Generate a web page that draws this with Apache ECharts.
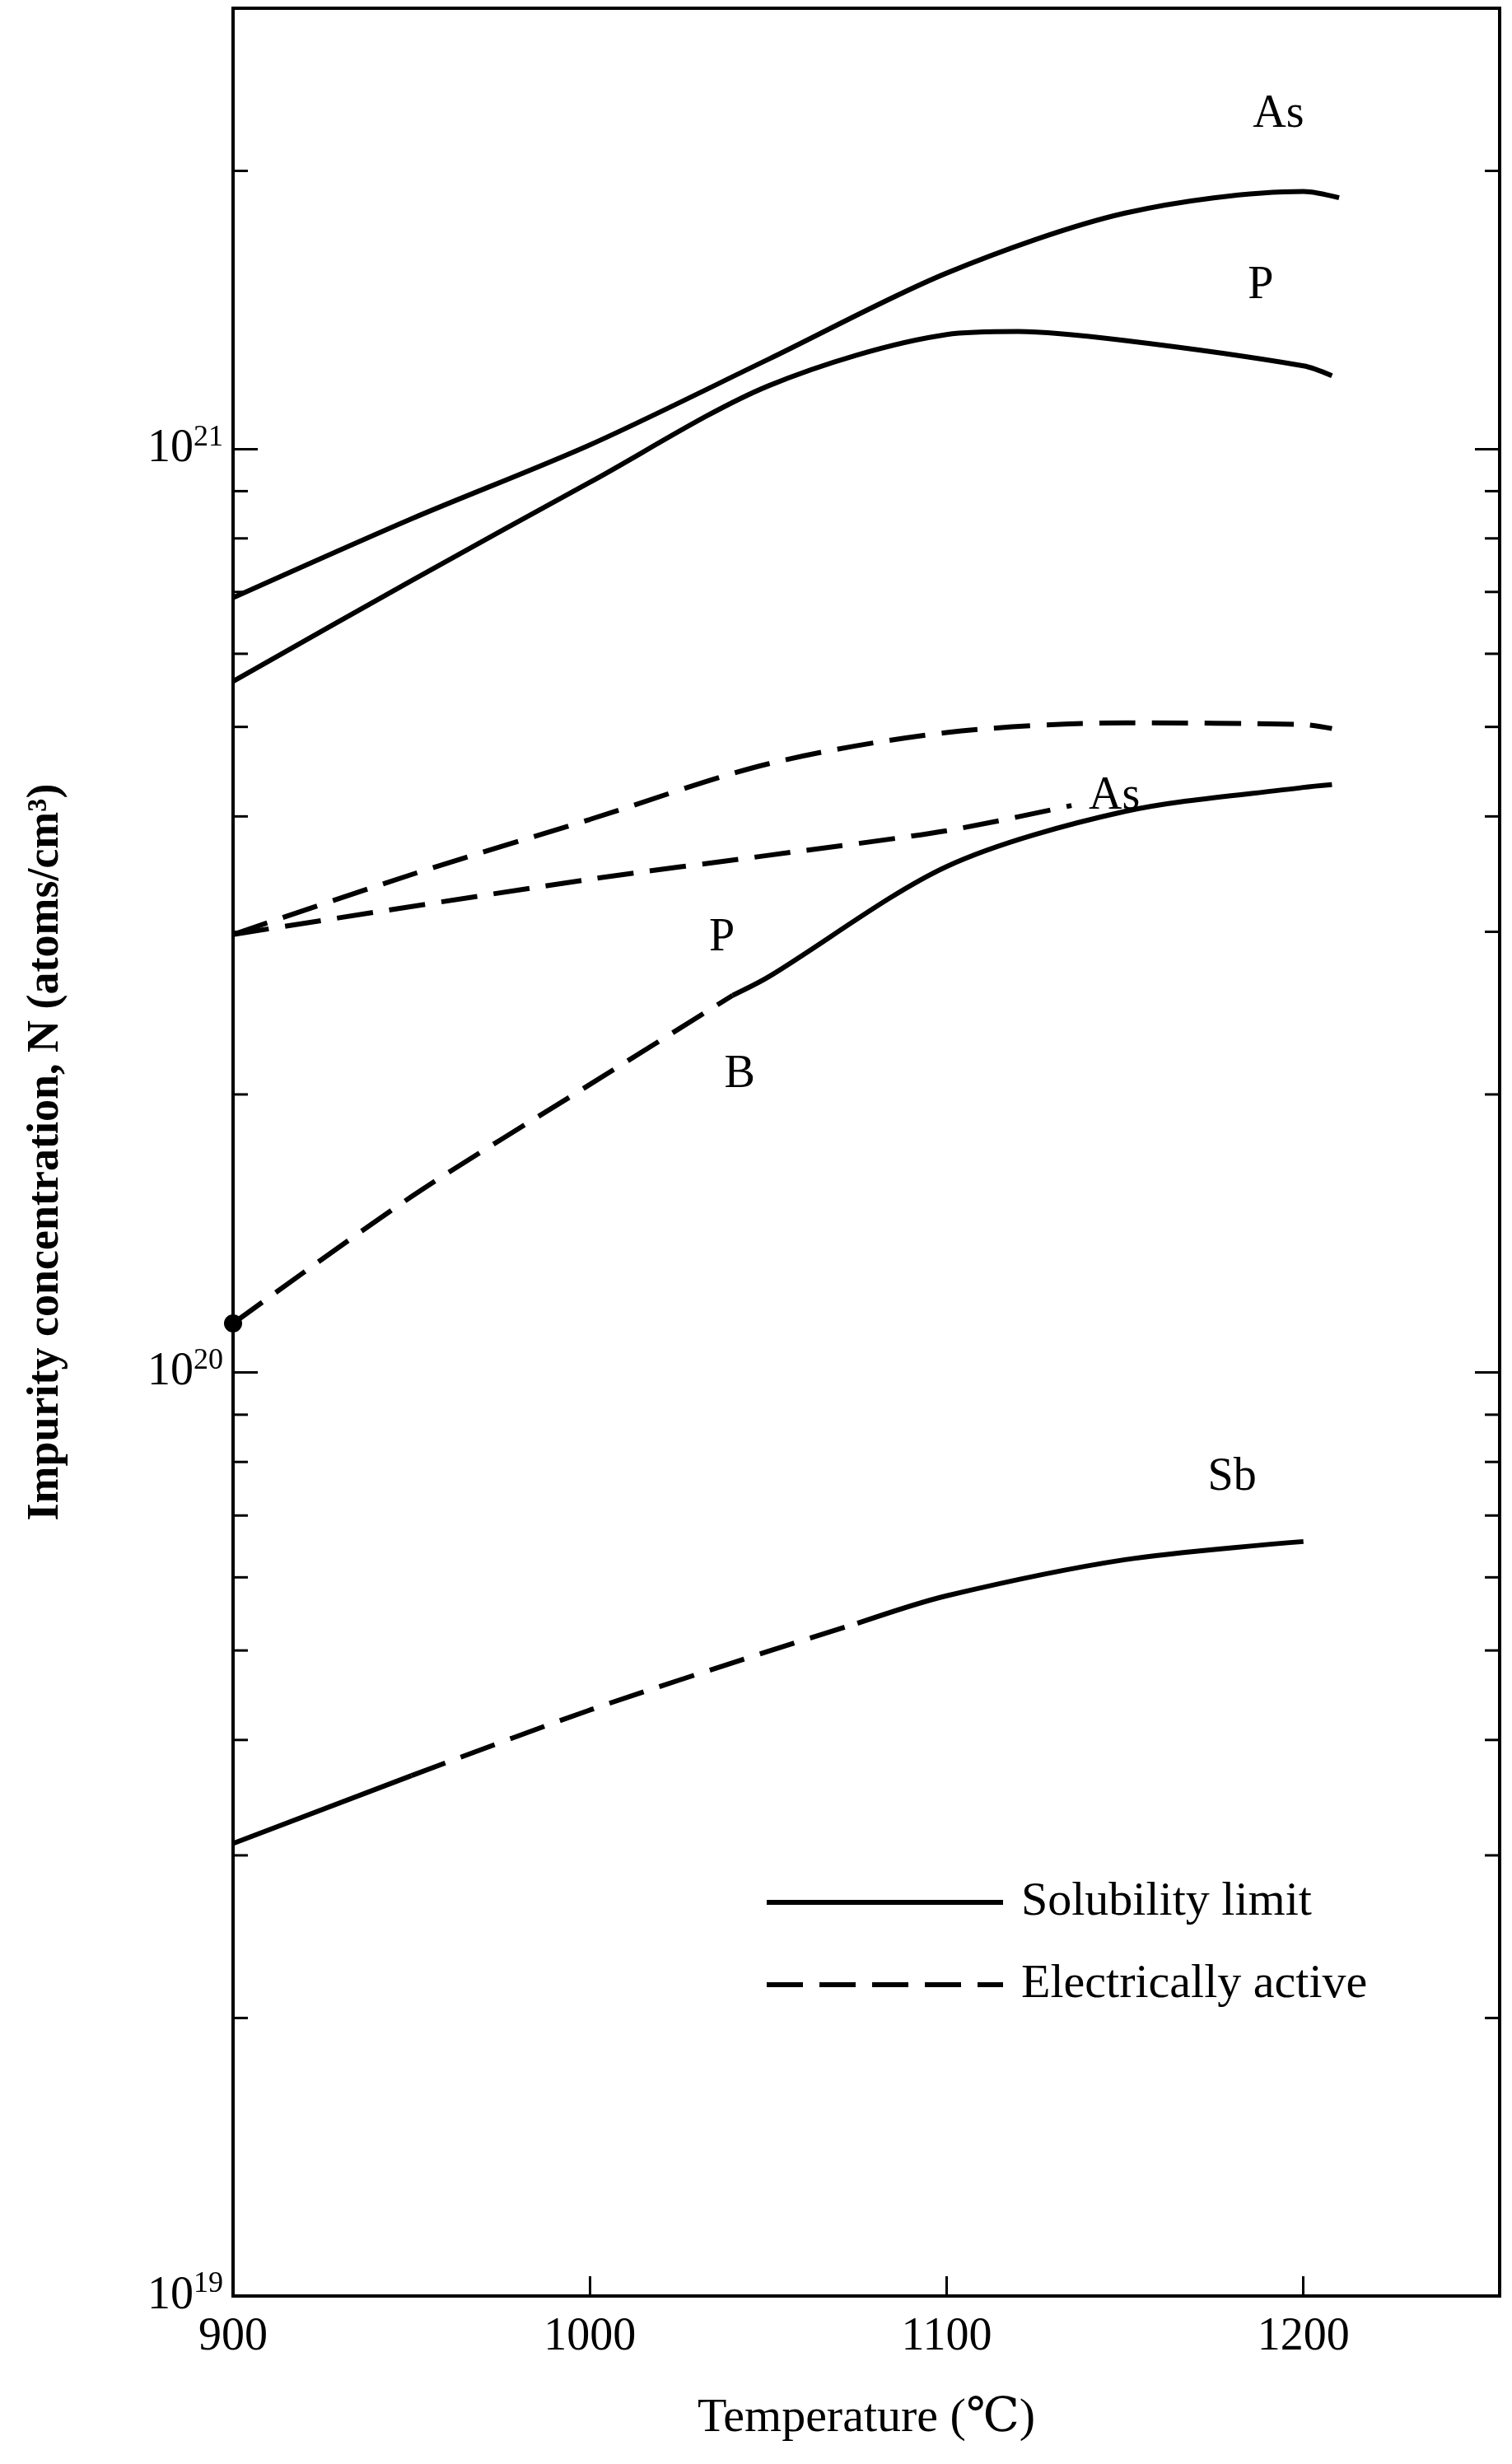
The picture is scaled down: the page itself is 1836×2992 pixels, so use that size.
<!DOCTYPE html>
<html>
<head>
<meta charset="utf-8">
<script src="https://cdn.jsdelivr.net/npm/echarts@6/dist/echarts.min.js"></script>
<style>
  html, body { margin: 0; padding: 0; background: #fff; }
  #chart { width: 1836px; height: 2992px; }
</style>
</head>
<body>
<div id="chart"></div>
<script>
// temperatures (°C) and concentrations (atoms/cm3)
const asSolT = [900, 950, 1000, 1050, 1100, 1150, 1200, 1210];
const asSolN = [6.9e20, 8.4e20, 1.01e21, 1.25e21, 1.55e21, 1.8e21, 1.9e21, 1.87e21];
const pSolT = [900, 950, 1000, 1050, 1100, 1120, 1150, 1200, 1208];
const pSolN = [5.6e20, 7.2e20, 9.2e20, 1.17e21, 1.33e21, 1.34e21, 1.31e21, 1.23e21, 1.2e21];
const asActT = [900, 950, 1000, 1050, 1100, 1150, 1200, 1208];
const asActN = [2.98e20, 3.46e20, 3.97e20, 4.56e20, 4.93e20, 5.05e20, 5.03e20, 4.98e20];
const pActT = [900, 1000, 1050, 1100, 1135];
const pActN = [2.98e20, 3.42e20, 3.63e20, 3.86e20, 4.11e20];
const bActT = [900, 950, 1000, 1040];
const bActN = [1.13e20, 1.55e20, 2.05e20, 2.56e20];
const bSolT = [1040, 1050, 1100, 1150, 1200, 1208];
const bSolN = [2.56e20, 2.68e20, 3.53e20, 4.05e20, 4.3e20, 4.33e20];
const sbSolT1 = [900, 950];
const sbSolN1 = [3.09e19, 3.66e19];
const sbActT = [950, 1000, 1050, 1075];
const sbActN = [3.66e19, 4.31e19, 4.99e19, 5.35e19];
const sbSolT2 = [1075, 1100, 1150, 1200];
const sbSolN2 = [5.35e19, 5.73e19, 6.27e19, 6.56e19];
const xTicks = [900, 1000, 1100, 1200];
const decades = [19, 20, 21];
const curveLabels = [
  { text: 'As', t: 1193, n: 2.3e21 },
  { text: 'P', t: 1188, n: 1.5e21 },
  { text: 'As', t: 1147, n: 4.2e20 },
  { text: 'P', t: 1037, n: 2.95e20 },
  { text: 'B', t: 1042, n: 2.1e20 },
  { text: 'Sb', t: 1180, n: 7.7e19 }
];

const lg = v => Math.log10(v);
const pairs = (t, n) => t.map((x, i) => [x, lg(n[i])]);
const FONT = '"Liberation Serif", "DejaVu Serif", serif';
const solid = { color: '#000', width: 6, type: 'solid' };
const dashed = { color: '#000', width: 6, type: [44, 20] };
const line = (t, n, style) => ({
  type: 'line', data: pairs(t, n), smooth: 0.3, showSymbol: false,
  lineStyle: style, silent: true, z: 3
});

// minor ticks at 2..9 × each decade, on left and right edges
const minor = [];
decades.slice(0, 2).forEach(d => { for (let k = 2; k <= 9; k++) minor.push(d + lg(k)); });
for (let k = 2; k <= 3; k++) minor.push(21 + lg(k));

const chart = echarts.init(document.getElementById('chart'));
const yMax = lg(3e21);
chart.setOption({
  animation: false,
  backgroundColor: '#fff',
  grid: { left: 283, top: 10, width: 1538, height: 2778 },
  xAxis: {
    type: 'value', min: 900, max: 1255, interval: 100,
    axisLine: { lineStyle: { color: '#000', width: 4 } },
    axisTick: { inside: true, length: 24, lineStyle: { color: '#000', width: 3 } },
    axisLabel: { color: '#000', fontFamily: FONT, fontSize: 56, margin: 22,
      formatter: v => xTicks.includes(v) ? String(v) : '' },
    splitLine: { show: false },
    name: 'Temperature (\u2103)', nameLocation: 'middle', nameGap: 120,
    nameTextStyle: { color: '#000', fontFamily: FONT, fontSize: 58 }
  },
  yAxis: [{
    type: 'value', min: 19, max: yMax, interval: 1,
    axisLine: { lineStyle: { color: '#000', width: 4 } },
    axisTick: { inside: true, length: 30, lineStyle: { color: '#000', width: 3 } },
    axisLabel: { color: '#000', fontFamily: FONT, margin: 12,
      formatter: v => decades.includes(v) ? '{b|10}{s|' + v + '}' : '',
      rich: { b: { fontFamily: FONT, fontSize: 56, color: '#000' },
              s: { fontFamily: FONT, fontSize: 36, color: '#000', verticalAlign: 'top', padding: [0, 0, 28, 0] } } },
    splitLine: { show: false },
    name: 'Impurity concentration, N (atoms/cm\u00b3)', nameLocation: 'middle', nameGap: 200,
    nameTextStyle: { color: '#000', fontFamily: FONT, fontSize: 54, fontWeight: 'bold' }
  }, {
    type: 'value', min: 19, max: yMax, interval: 1, position: 'right',
    axisLine: { show: true, lineStyle: { color: '#000', width: 4 } },
    axisTick: { show: true, inside: true, length: 30, lineStyle: { color: '#000', width: 3 } },
    axisLabel: { show: false }, splitLine: { show: false }
  }],
  graphic: [{
    type: 'rect', shape: { x: 283, y: 10, width: 1538, height: 2778 },
    style: { fill: 'none', stroke: '#000', lineWidth: 4 }, silent: true
  }],
  series: [
    line(asSolT, asSolN, solid),
    line(pSolT, pSolN, solid),
    line(asActT, asActN, dashed),
    line(pActT, pActN, dashed),
    Object.assign(line(bActT, bActN, dashed), { showSymbol: false,
      markPoint: { symbol: 'circle', symbolSize: 22, itemStyle: { color: '#000' }, label: { show: false },
        data: [{ coord: [900, lg(1.13e20)] }] } }),
    line(bSolT, bSolN, solid),
    line(sbSolT1, sbSolN1, solid),
    line(sbActT, sbActN, dashed),
    line(sbSolT2, sbSolN2, solid),
    {
      type: 'custom', silent: true, z: 4,
      data: minor.map(v => [v]),
      renderItem: (params, api) => {
        const y = api.coord([900, api.value(0)])[1];
        const xl = api.coord([900, 19])[0];
        const xr = api.coord([1255, 19])[0];
        return { type: 'group', children: [
          { type: 'line', shape: { x1: xl, y1: y, x2: xl + 18, y2: y }, style: { stroke: '#000', lineWidth: 3 } },
          { type: 'line', shape: { x1: xr - 18, y1: y, x2: xr, y2: y }, style: { stroke: '#000', lineWidth: 3 } }
        ] };
      }
    },
    {
      type: 'custom', silent: true, z: 5,
      data: curveLabels.map(c => [c.t, lg(c.n)]),
      renderItem: (params, api) => {
        const p = api.coord([api.value(0), api.value(1)]);
        return { type: 'text', x: p[0], y: p[1],
          style: { text: curveLabels[params.dataIndex].text, fill: '#000', font: '56px ' + FONT,
            align: 'center', verticalAlign: 'middle' } };
      }
    }
  ]
});

// legend drawn in the lower right, as in the figure
chart.setOption({ graphic: [
  { type: 'rect', shape: { x: 283, y: 10, width: 1538, height: 2778 },
    style: { fill: 'none', stroke: '#000', lineWidth: 4 }, silent: true },
  { type: 'line', shape: { x1: 931, y1: 2310, x2: 1218, y2: 2310 }, style: { stroke: '#000', lineWidth: 6 } },
  { type: 'line', shape: { x1: 931, y1: 2410, x2: 1218, y2: 2410 }, style: { stroke: '#000', lineWidth: 6, lineDash: [44, 20] } },
  { type: 'text', x: 1240, y: 2310, style: { text: 'Solubility limit', font: '58px ' + FONT, fill: '#000', verticalAlign: 'middle' } },
  { type: 'text', x: 1240, y: 2410, style: { text: 'Electrically active', font: '58px ' + FONT, fill: '#000', verticalAlign: 'middle' } }
] });
</script>
</body>
</html>
